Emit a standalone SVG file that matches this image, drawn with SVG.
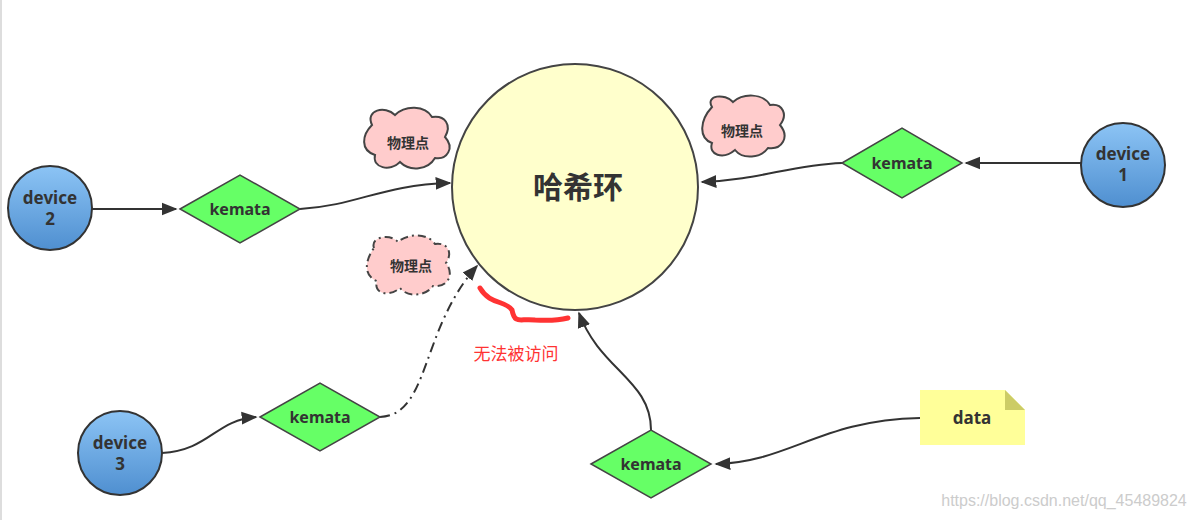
<svg xmlns="http://www.w3.org/2000/svg" width="1201" height="520" viewBox="0 0 1201 520">
<style>
.dev{fill:url(#g);stroke:#333;stroke-width:2}
.dia{fill:#66ff66;stroke:#444;stroke-width:1.5}
.cl{fill:#ffcccc;stroke:#444;stroke-width:2}
.t{font-family:"Noto Sans","Noto Sans CJK SC",sans-serif;font-weight:bold;fill:#333;text-anchor:middle}
.c{fill:none;stroke:#333;stroke-width:2}
</style>
<defs>
<linearGradient id="g" x1="0" y1="0" x2="0" y2="1"><stop offset="0" stop-color="#8cc4f5"/><stop offset="1" stop-color="#4f8fd0"/></linearGradient>
<marker id="b" viewBox="0 0 10 10" refX="9" refY="5" markerWidth="16" markerHeight="16" markerUnits="userSpaceOnUse" orient="auto"><path d="M0,1L10,5L0,9z" fill="#333"/></marker>
</defs>
<rect width="1201" height="520" fill="#fff"/>
<line x1="1" y1="0" x2="1" y2="520" stroke="#bbb"/>
<g id="connectors">
<path class="c" d="M92,209 L176,209" marker-end="url(#b)"/>
<path class="c" d="M300,209 C360,205 380,185 450,183" marker-end="url(#b)"/>
<path class="c" d="M1081,163 L966,163" marker-end="url(#b)"/>
<path class="c" d="M842,163 C790,165 760,180 702,182" marker-end="url(#b)"/>
<path class="c" d="M162,453 C210,450 215,420 256,417" marker-end="url(#b)"/>
<path class="c" stroke-dasharray="10,5,2,5" d="M380,417 C430,415 420,330 477,266" marker-end="url(#b)"/>
<path class="c" d="M920,418 C820,420 790,462 716,464" marker-end="url(#b)"/>
<path class="c" d="M651,430 C651,380 600,370 579,313" marker-end="url(#b)"/>
</g>
<g id="ring"><circle cx="575" cy="187" r="123" fill="#ffffcc" stroke="#444" stroke-width="2"/><text class="t" x="578" y="198" font-size="30">哈希环</text></g>
<g id="cloud1"><path class="cl" d="M372,125 C365,110 385,105 395,115 C405,105 425,105 432,117 C445,115 452,125 445,137 C455,148 447,160 435,158 C428,170 410,172 400,162 C390,172 372,168 375,155 C360,150 362,135 372,125 Z"/><text class="t" x="408" y="148" font-size="14">物理点</text></g>
<g id="cloud2"><path class="cl" d="M712,107 C705,95 725,93 733,102 C743,93 763,93 770,105 C783,103 788,115 780,125 C790,137 782,150 768,148 C761,158 743,160 735,150 C723,160 708,155 712,143 C698,138 700,120 712,107 Z"/><text class="t" x="742" y="136" font-size="14">物理点</text></g>
<g id="cloud3"><path class="cl" stroke-dasharray="8,4,2,4" d="M374,248 C370,237 390,233 398,242 C408,233 428,233 435,244 C448,242 453,253 446,263 C455,275 447,288 433,286 C426,296 408,298 400,288 C388,298 373,293 377,281 C363,276 365,260 374,248 Z"/><text class="t" x="411" y="271" font-size="14">物理点</text></g>
<g id="device2"><circle class="dev" cx="50" cy="208" r="42"/><text class="t" x="50" y="204" font-size="17">device</text><text class="t" x="50" y="225" font-size="17">2</text></g>
<g id="device1"><circle class="dev" cx="1123" cy="165" r="42"/><text class="t" x="1123" y="160" font-size="17">device</text><text class="t" x="1123" y="181" font-size="17">1</text></g>
<g id="device3"><circle class="dev" cx="120" cy="453" r="42"/><text class="t" x="120" y="449" font-size="17">device</text><text class="t" x="120" y="470" font-size="17">3</text></g>
<g id="k1"><path class="dia" d="M180,209 L240,175 L300,209 L240,243 Z"/><text class="t" x="240" y="215" font-size="16">kemata</text></g>
<g id="k2"><path class="dia" d="M842,163 L902,128 L962,163 L902,198 Z"/><text class="t" x="902" y="169" font-size="16">kemata</text></g>
<g id="k3"><path class="dia" d="M260,417 L320,383 L380,417 L320,451 Z"/><text class="t" x="320" y="423" font-size="16">kemata</text></g>
<g id="k4"><path class="dia" d="M591,464 L651,430 L711,464 L651,498 Z"/><text class="t" x="651" y="470" font-size="16">kemata</text></g>
<g id="data"><path d="M920,390 H1005 L1025,410 V445 H920 Z" fill="#ffff99"/><path d="M1005,390 V410 H1025 Z" fill="#cccc66"/><text class="t" x="972" y="424" font-size="17">data</text></g>
<path d="M480,288 C490,305 505,300 512,310 C515,325 520,318 535,320 C550,321 560,320 568,318" fill="none" stroke="#ff3333" stroke-width="5" stroke-linecap="round"/>
<text x="516" y="360" font-family="Noto Sans CJK SC,sans-serif" font-size="17" fill="#ff3333" text-anchor="middle">无法被访问</text>
<text x="1064" y="506" font-family="Liberation Sans,sans-serif" font-size="16" fill="#ccc" text-anchor="middle">https://blog.csdn.net/qq_45489824</text>
</svg>
